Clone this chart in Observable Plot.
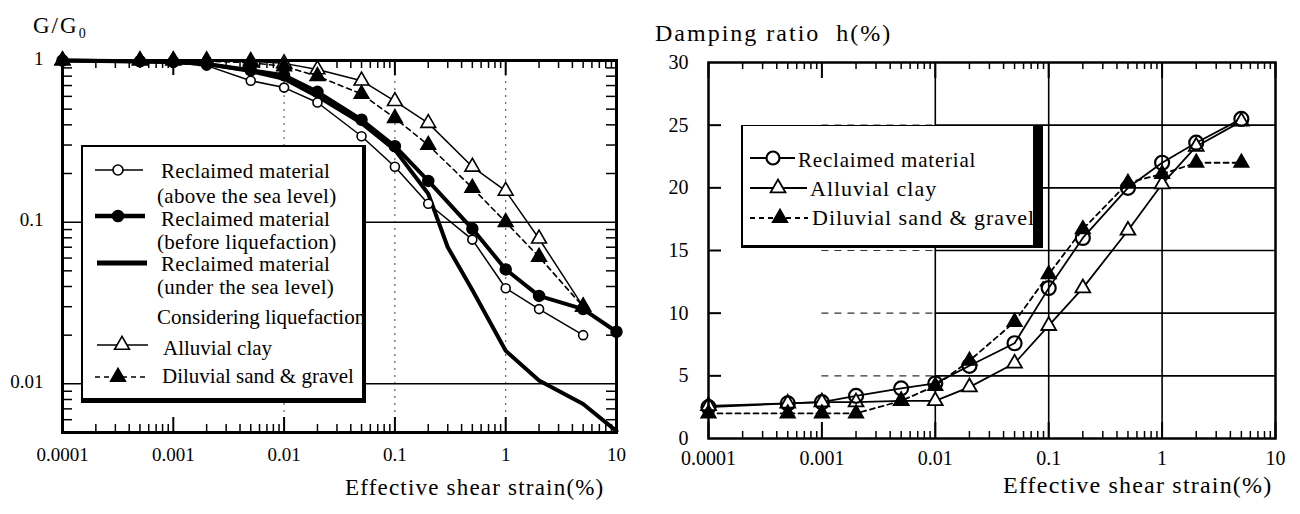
<!DOCTYPE html>
<html><head><meta charset="utf-8">
<script src="https://cdn.jsdelivr.net/npm/d3@7"></script>
<script src="https://cdn.jsdelivr.net/npm/@observablehq/plot@0.6"></script>
<style>
body{margin:0;background:#fff;}
#wrap{position:relative;width:1300px;height:514px;overflow:hidden;font-family:"Liberation Serif","Times New Roman",serif;color:#000;background:#fff;}
.abs{position:absolute;white-space:pre;line-height:1;}
.plot{position:absolute;top:0;}
.leg{position:absolute;background:#fff;box-sizing:border-box;border-style:solid;border-color:#000;}
</style></head><body><div id="wrap"></div>
<script>
// ---------- data: left panel (G/G0) ----------
const strainL = [0.0001,0.0005,0.001,0.002,0.005,0.01,0.02,0.05,0.1,0.2,0.5,1,2,5,10];
const aboveSea  = [1,0.98,0.97,0.93,0.75,0.68,0.55,0.34,0.22,0.13,0.078,0.039,0.029,0.02,null];
const beforeLiq = [1,0.99,0.98,0.95,0.87,0.81,0.64,0.43,0.295,0.18,0.091,0.051,0.035,0.029,0.021];
const alluvialG = [1,1,1,1,0.99,0.96,0.88,0.75,0.56,0.41,0.22,0.156,0.079,0.03,null];
const diluvialG = [1,1,1,0.99,0.97,0.92,0.8,0.62,0.44,0.3,0.163,0.1,0.061,0.03,null];
const strainUnder = [0.0001,0.001,0.002,0.005,0.01,0.02,0.05,0.1,0.2,0.3,0.5,1,2,5,10];
const underSea    = [1,0.98,0.95,0.86,0.77,0.6,0.41,0.28,0.15,0.07,0.038,0.016,0.0105,0.0075,0.0051];

// ---------- data: right panel (damping) ----------
const strainR = [0.0001,0.0005,0.001,0.002,0.005,0.01,0.02,0.05,0.1,0.2,0.5,1,2,5];
const reclaimedH = [2.5,2.8,2.9,3.4,4.0,4.4,5.8,7.6,12.0,16.0,20.0,22.0,23.6,25.5];
const alluvialH  = [2.6,2.8,2.9,2.9,3.0,3.0,4.1,6.0,9.0,12.0,16.6,20.3,23.3,25.3];
const diluvialH  = [2.0,2.0,2.0,2.0,3.0,4.2,6.2,9.3,13.1,16.7,20.4,21.1,22.0,22.0];

// ---------- ticks / labels ----------
const xTickVals = [0.0001,0.001,0.01,0.1,1,10];
const xTickLabels = ["0.0001","0.001","0.01","0.1","1","10"];
const yTickValsL = [1,0.1,0.01];
const yTickLabelsL = ["1","0.1","0.01"];
const yTickValsR = [0,5,10,15,20,25,30];
const yTickLabelsR = ["0","5","10","15","20","25","30"];
const legendLeft = [
  ["Reclaimed material","(above the sea level)"],
  ["Reclaimed material","(before liquefaction)"],
  ["Reclaimed material","(under the sea level)"],
  ["Considering liquefaction"],
  ["Alluvial clay"],
  ["Diluvial sand & gravel"]
];
const legendRight = ["Reclaimed material","Alluvial clay","Diluvial sand & gravel"];

const decades = [0.0001,0.001,0.01,0.1,1];
const minorX = decades.flatMap(d => [2,3,4,5,6,7,8,9].map(k => k*d));
const minorYL = [0.001,0.01,0.1].flatMap(d => [2,3,4,5,6,7,8,9].map(k => k*d)).filter(v => v >= 0.005 && v < 1);

const rows = (xs, ys) => xs.map((x,i) => ({x, y: ys[i]})).filter(d => d.y != null);
const fmt = (vals, labs) => d => labs[vals.indexOf(d)];

const wrap = document.getElementById("wrap");
const serif = "Liberation Serif, Times New Roman, serif";

// ---------- left plot ----------
const L = {w:640, h:514, top:60, right:24, bottom:82, left:62};
const ihL = L.h - L.top - L.bottom, iwL = L.w - L.left - L.right;
const above = rows(strainL, aboveSea), before = rows(strainL, beforeLiq),
      under = rows(strainUnder, underSea), alluv = rows(strainL, alluvialG), diluv = rows(strainL, diluvialG);
const left = Plot.plot({
  width: L.w, height: L.h, marginTop: L.top, marginRight: L.right, marginBottom: L.bottom, marginLeft: L.left,
  x: {type: "log", domain: [0.0001, 10]},
  y: {type: "log", domain: [0.005, 1]},
  style: {fontFamily: serif, fontSize: "19px", background: "transparent", overflow: "visible", color: "#000"},
  marks: [
    Plot.ruleX([0.01,0.1,1], {stroke: "#444", strokeWidth: 1, strokeDasharray: "2,5"}),
    Plot.ruleY([0.1,0.01], {stroke: "#000", strokeWidth: 1.5}),
    Plot.tickX(minorX, {x: d => d, insetTop: ihL - 8, stroke: "#000", strokeWidth: 1.5}),
    Plot.tickX(minorX, {x: d => d, insetBottom: ihL - 8, stroke: "#000", strokeWidth: 1.5}),
    Plot.tickX(xTickVals, {x: d => d, insetTop: ihL - 15, stroke: "#000", strokeWidth: 2}),
    Plot.tickX(xTickVals, {x: d => d, insetBottom: ihL - 15, stroke: "#000", strokeWidth: 2}),
    Plot.tickY(minorYL, {y: d => d, insetRight: iwL - 10, stroke: "#000", strokeWidth: 1.5}),
    Plot.tickY(minorYL, {y: d => d, insetLeft: iwL - 10, stroke: "#000", strokeWidth: 1.5}),
    Plot.line(under, {x: "x", y: "y", stroke: "#000", strokeWidth: 4}),
    Plot.line(above, {x: "x", y: "y", stroke: "#000", strokeWidth: 1.5}),
    Plot.line(before, {x: "x", y: "y", stroke: "#000", strokeWidth: 4}),
    Plot.line(alluv, {x: "x", y: "y", stroke: "#000", strokeWidth: 1.5}),
    Plot.line(diluv, {x: "x", y: "y", stroke: "#000", strokeWidth: 1.6, strokeDasharray: "5,4"}),
    Plot.dot(above, {x: "x", y: "y", r: 4.5, fill: "#fff", stroke: "#000", strokeWidth: 1.6}),
    Plot.dot(before, {x: "x", y: "y", r: 5.5, fill: "#000", stroke: "#000"}),
    Plot.dot(alluv, {x: "x", y: "y", symbol: "triangle", r: 5.5, fill: "#fff", stroke: "#000", strokeWidth: 1.6}),
    Plot.dot(diluv, {x: "x", y: "y", symbol: "triangle", r: 5.5, fill: "#000", stroke: "#000"}),
    Plot.frame({stroke: "#000", strokeWidth: 3}),
    Plot.axisX(xTickVals, {tickSize: 0, tickPadding: 15, tickFormat: fmt(xTickVals, xTickLabels), label: null}),
    Plot.axisY(yTickValsL, {tickSize: 0, tickPadding: 19, tickFormat: fmt(yTickValsL, yTickLabelsL), label: null, dy: -2})
  ]
});
left.classList.add("plot");
left.style.left = "0px";
wrap.appendChild(left);

// ---------- right plot ----------
const R = {w:660, h:514, top:62, right:25, bottom:76, left:68};
const ihR = R.h - R.top - R.bottom, iwR = R.w - R.left - R.right;
const recl = rows(strainR, reclaimedH), alH = rows(strainR, alluvialH), diH = rows(strainR, diluvialH);
const gridH = [5,10,15,20,25];
const right = Plot.plot({
  width: R.w, height: R.h, marginTop: R.top, marginRight: R.right, marginBottom: R.bottom, marginLeft: R.left,
  x: {type: "log", domain: [0.0001, 10]},
  y: {domain: [0, 30]},
  style: {fontFamily: serif, fontSize: "20px", background: "transparent", overflow: "visible", color: "#000"},
  marks: [
    Plot.ruleY(gridH, {y: d => d, x1: 0.001, x2: 0.01, stroke: "#333", strokeWidth: 1.2, strokeDasharray: "7,6"}),
    Plot.ruleY(gridH, {y: d => d, x1: 0.01, x2: 10, stroke: "#000", strokeWidth: 1.6}),
    Plot.ruleX([0.01,0.1,1], {stroke: "#000", strokeWidth: 1.6}),
    Plot.tickX(minorX, {x: d => d, insetTop: ihR - 7, stroke: "#000", strokeWidth: 1.5}),
    Plot.tickX(minorX, {x: d => d, insetBottom: ihR - 7, stroke: "#000", strokeWidth: 1.5}),
    Plot.tickX(xTickVals, {x: d => d, insetTop: ihR - 16, stroke: "#000", strokeWidth: 2}),
    Plot.tickX(xTickVals, {x: d => d, insetBottom: ihR - 16, stroke: "#000", strokeWidth: 2}),
    Plot.tickY(gridH, {y: d => d, insetRight: iwR - 13, stroke: "#000", strokeWidth: 2}),
    Plot.line(alH, {x: "x", y: "y", stroke: "#000", strokeWidth: 1.8}),
    Plot.line(diH, {x: "x", y: "y", stroke: "#000", strokeWidth: 1.8, strokeDasharray: "5,4"}),
    Plot.line(recl, {x: "x", y: "y", stroke: "#000", strokeWidth: 1.8}),
    Plot.dot(alH, {x: "x", y: "y", symbol: "triangle", r: 5.5, fill: "#fff", stroke: "#000", strokeWidth: 1.8}),
    Plot.dot(diH, {x: "x", y: "y", symbol: "triangle", r: 5.5, fill: "#000", stroke: "#000"}),
    Plot.dot(recl, {x: "x", y: "y", r: 7, fill: "none", stroke: "#000", strokeWidth: 2.2}),
    Plot.frame({stroke: "#000", strokeWidth: 2.5}),
    Plot.axisX(xTickVals, {tickSize: 0, tickPadding: 12, tickFormat: fmt(xTickVals, xTickLabels), label: null}),
    Plot.axisY(yTickValsR, {tickSize: 0, tickPadding: 20, tickFormat: fmt(yTickValsR, yTickLabelsR), label: null})
  ]
});
right.classList.add("plot");
right.style.left = "640px";
wrap.appendChild(right);

// ---------- text helpers ----------
function addText(str, x, capTop, size, spacing) {
  const d = document.createElement("div");
  d.className = "abs";
  d.textContent = str;
  d.style.left = x + "px";
  d.style.top = (capTop - 0.178 * size) + "px";
  d.style.fontSize = size + "px";
  d.style.letterSpacing = spacing + "px";
  wrap.appendChild(d);
  return d;
}
function addBox(x, y, w, h, bl, bt, br, bb) {
  const b = document.createElement("div");
  b.className = "leg";
  Object.assign(b.style, {left: x + "px", top: y + "px", width: w + "px", height: h + "px",
    borderLeftWidth: bl + "px", borderTopWidth: bt + "px", borderRightWidth: br + "px", borderBottomWidth: bb + "px"});
  wrap.appendChild(b);
}

// titles & axis labels
const g = addText("", 33, 18, 23, 2);
g.innerHTML = 'G/G<span style="font-size:14px;position:relative;top:5px;letter-spacing:0">0</span>';
addText("Damping ratio  h(%)", 655, 25, 24, 2);
addText("Effective shear strain(%)", 345, 480, 23, 1.2);
addText("Effective shear strain(%)", 1003, 477, 24, 1.2);

// legend boxes
addBox(81, 145, 285, 258, 2, 2, 4, 5);
addBox(741, 125, 302, 123, 2, 1.5, 10, 3);

// legend samples
const ls = d3.create("svg").attr("width", 1300).attr("height", 514)
  .style("position", "absolute").style("left", "0px").style("top", "0px");
function sample(x1, x2, y, o) {
  const ln = ls.append("line").attr("x1", x1).attr("x2", x2).attr("y1", y).attr("y2", y)
    .attr("stroke", "#000").attr("stroke-width", o.sw);
  if (o.dash) ln.attr("stroke-dasharray", o.dash);
  if (o.sym) {
    ls.append("path").attr("transform", `translate(${o.sx},${y})`)
      .attr("d", d3.symbol(o.sym, Math.PI * o.r * o.r)())
      .attr("fill", o.fill).attr("stroke", "#000").attr("stroke-width", o.msw || 1.6);
  }
}
sample(95, 143, 170, {sw: 1.6, sym: d3.symbolCircle, sx: 118, r: 5, fill: "#fff"});
sample(95, 145, 216, {sw: 4.5, sym: d3.symbolCircle, sx: 118, r: 5.5, fill: "#000"});
sample(97, 147, 263, {sw: 5});
sample(97, 148, 345, {sw: 1.6, sym: d3.symbolTriangle, sx: 122, r: 5.5, fill: "#fff"});
sample(95, 147, 377, {sw: 1.6, dash: "5,4", sym: d3.symbolTriangle, sx: 118, r: 5.5, fill: "#000"});
sample(750, 795, 158, {sw: 1.8, sym: d3.symbolCircle, sx: 773, r: 6.5, fill: "#fff", msw: 2.2});
sample(750, 807, 188, {sw: 1.8, sym: d3.symbolTriangle, sx: 778, r: 5.5, fill: "#fff", msw: 1.8});
sample(750, 808, 218, {sw: 1.8, dash: "5,4", sym: d3.symbolTriangle, sx: 780, r: 5.5, fill: "#000"});
wrap.appendChild(ls.node());

// legend texts (left)
const LF = 21;
addText(legendLeft[0][0], 161, 165, LF, 0.3);
addText(legendLeft[0][1], 157, 190, LF, 0.3);
addText(legendLeft[1][0], 161, 213, LF, 0.3);
addText(legendLeft[1][1], 157, 236, LF, 0.3);
addText(legendLeft[2][0], 161, 258, LF, 0.3);
addText(legendLeft[2][1], 157, 281, LF, 0.3);
addText(legendLeft[3][0], 157, 311, LF, 0);
addText(legendLeft[4][0], 163, 342, LF, 0);
addText(legendLeft[5][0], 162, 370, LF, 0);
// legend texts (right)
addText(legendRight[0], 798, 154, 21, 0.8);
addText(legendRight[1], 810, 182, 22, 1);
addText(legendRight[2], 812, 211, 22, 1);
</script></body></html>
